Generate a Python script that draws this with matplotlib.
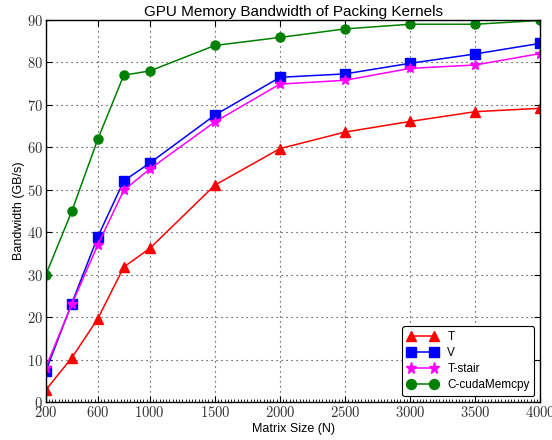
import matplotlib
matplotlib.use("Agg")
import matplotlib.pyplot as plt
from matplotlib.ticker import FixedLocator, MultipleLocator, FuncFormatter

sizes = [200, 400, 600, 800, 1000, 1500, 2000, 2500, 3000, 3500, 4000]
t_vals = [2.8, 10.4, 19.6, 31.8, 36.2, 51.1, 59.7, 63.6, 66.1, 68.4, 69.2]
v_vals = [7.2, 23.2, 38.9, 52.1, 56.3, 67.6, 76.5, 77.3, 79.8, 82.0, 84.5]
tstair_vals = [8.1, 23.0, 37.0, 49.9, 54.9, 66.0, 74.9, 75.8, 78.6, 79.4, 82.1]
cuda_vals = [29.9, 44.9, 61.9, 77.0, 78.0, 84.0, 85.9, 87.9, 89.0, 89.0, 89.9]
x_ticks = [200, 600, 1000, 1500, 2000, 2500, 3000, 3500, 4000]
y_ticks = [0, 10, 20, 30, 40, 50, 60, 70, 80, 90]

plt.rcParams['mathtext.fontset'] = 'cm'
plt.rcParams['font.family'] = ['Liberation Sans', 'DejaVu Sans']

fig = plt.figure(figsize=(5.52, 4.4), dpi=100)
ax = fig.add_axes([45.7/552, 38/440, (540.3-45.7)/552, (402-20)/440])

ms = 6.5
lw = 1.1
ax.plot(sizes, t_vals, color='red', marker='^', ms=ms, lw=lw, label='T')
ax.plot(sizes, v_vals, color='blue', marker='s', ms=ms, lw=lw, label='V')
ax.plot(sizes, tstair_vals, color='magenta', marker='*', ms=ms+1, lw=lw, label='T-stair')
ax.plot(sizes, cuda_vals, color='green', marker='o', ms=ms, lw=lw, label='C-cudaMemcpy')

ax.set_xlim(200, 4000)
ax.set_ylim(0, 90)
ax.xaxis.set_major_locator(FixedLocator(x_ticks))
ax.yaxis.set_major_locator(FixedLocator(y_ticks))
ax.xaxis.set_minor_locator(MultipleLocator(25))
fmt = FuncFormatter(lambda v, p: r'$%d$' % v)
ax.xaxis.set_major_formatter(fmt)
ax.yaxis.set_major_formatter(fmt)
ax.tick_params(which='major', direction='in', length=4, width=0.8, top=True, right=True,
               labelsize=10.5, pad=2, labelcolor='#333333')
ax.tick_params(axis='x', which='minor', direction='in', length=2, width=0.6, top=False, bottom=True)
ax.grid(True, which='major', color='#222222', linestyle=(0, (1, 3.5)), linewidth=0.8)
for s in ax.spines.values():
    s.set_linewidth(1.0)

ax.set_title('GPU Memory Bandwidth of Packing Kernels', fontsize=11, pad=3)
ax.set_xlabel('Matrix Size (N)', fontsize=9, labelpad=2)
ax.set_ylabel('Bandwidth (GB/s)', fontsize=9, labelpad=1)

leg = ax.legend(loc='lower right', numpoints=2, fontsize=8.5, fancybox=True, framealpha=1,
                edgecolor='black', borderaxespad=0.5, handlelength=2.6, labelspacing=0.35,
                markerscale=1.1)
leg.get_frame().set_linewidth(0.8)

fig.savefig('out.png', dpi=100)
